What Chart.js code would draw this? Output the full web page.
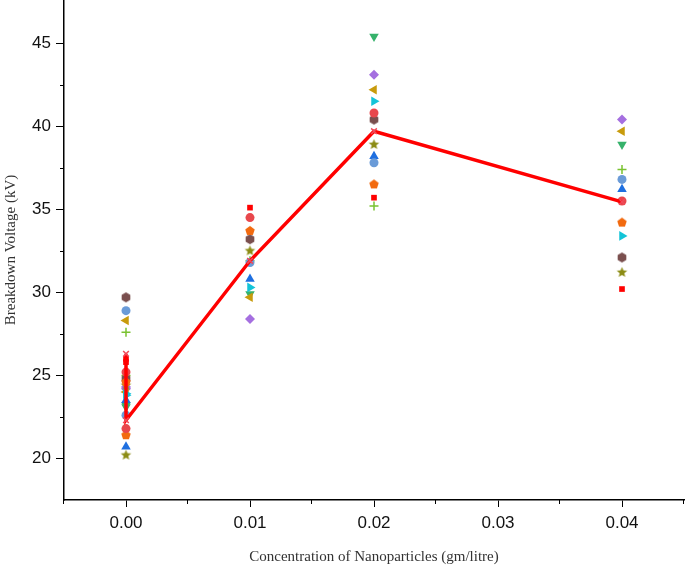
<!DOCTYPE html>
<html>
<head>
<meta charset="utf-8">
<script src="https://cdn.jsdelivr.net/npm/chart.js@4.4.1/dist/chart.umd.min.js"></script>
<style>
    html, body { margin: 0; padding: 0; background: #fff; }
    #wrap { width: 685px; height: 572px; }
</style>
</head>
<body>
<div id="wrap"><canvas id="bdvChart" width="685" height="572"></canvas></div>
<script>
// concentration of each reading (the base oil has two readings per run)
var conc = [0, 0, 0.01, 0.02, 0.04];

// breakdown voltage per run (kV)
var run1 = [25.8, 26.0, 35.1, 35.7, 30.2];
var run2 = [21.8, 25.2, 34.5, 40.8, 35.5];
var run3 = [21.4, 24.6, 33.7, 36.5, 34.2];
var run4 = [29.7, 24.8, 33.2, 40.4, 32.1];
var run5 = [20.2, 24.4, 32.5, 38.9, 31.2];
var run6 = [28.9, 22.6, 31.8, 37.8, 36.8];
var run7 = [20.7, 23.5, 30.8, 38.2, 36.2];
var run8 = [23.8, 23.9, 30.3, 41.5, 33.4];
var run9 = [28.3, 24.0, 29.7, 42.2, 39.7];
var run10 = [24.2, 24.3, 28.4, 43.1, 40.4];
var run11 = [23.2, 23.1, 29.9, 45.4, 38.9];
var run12 = [27.6, 25.0, 31.9, 35.2, 37.4];

// average line
var avgConc = [0, 0, 0.01, 0.02, 0.04];
var avgVolt = [26.3, 22.3, 31.9, 39.7, 35.45];

var xTicks = [0, 0.01, 0.02, 0.03, 0.04];
var yTicks = [20, 25, 30, 35, 40, 45];

function pts(xs, ys) {
    var out = [];
    for (var i = 0; i < xs.length; i++) {
        if (ys[i] !== null) out.push({ x: xs[i], y: ys[i] });
    }
    return out;
}

// small canvas markers for shapes chart.js does not have
function polyMarker(sides, color, r, star) {
    var c = document.createElement('canvas');
    var s = Math.ceil(r * 2 + 2);
    c.width = s; c.height = s;
    var g = c.getContext('2d');
    var n = star ? sides * 2 : sides;
    g.beginPath();
    for (var i = 0; i < n; i++) {
        var a = -Math.PI / 2 + i * 2 * Math.PI / n;
        var rr = (star && i % 2 === 1) ? r * 0.45 : r;
        var px = s / 2 + rr * Math.cos(a), py = s / 2 + rr * Math.sin(a);
        if (i === 0) g.moveTo(px, py); else g.lineTo(px, py);
    }
    g.closePath();
    g.fillStyle = color;
    g.fill();
    return c;
}

function runSet(data, color, style, rot, radius) {
    return {
        type: 'scatter',
        data: pts(conc, data),
        backgroundColor: color,
        borderColor: color,
        borderWidth: style === 'cross' ? 1.5 : 0,
        pointStyle: style,
        rotation: rot || 0,
        pointRadius: radius || 4.5,
        order: 1
    };
}

// no label overflow padding, the axes run to the canvas edges
function noPad(scale) {
    scale.paddingTop = 0;
    scale.paddingBottom = 0;
    scale.paddingLeft = 0;
    scale.paddingRight = 0;
}

var minorTicks = {
    id: 'minorTicks',
    afterDraw: function(chart) {
        var ctx = chart.ctx;
        var xs = chart.scales.x, ys = chart.scales.y;
        ctx.save();
        ctx.strokeStyle = '#000';
        ctx.lineWidth = 1;
        ctx.beginPath();
        [22.5, 27.5, 32.5, 37.5, 42.5].forEach(function(v) {
            var p = Math.round(ys.getPixelForValue(v)) + 0.5;
            ctx.moveTo(xs.left - 4, p);
            ctx.lineTo(xs.left, p);
        });
        [-0.005, 0.005, 0.015, 0.025, 0.035, 0.045].forEach(function(v) {
            var p = Math.round(xs.getPixelForValue(v)) - 0.5;
            ctx.moveTo(p, ys.bottom);
            ctx.lineTo(p, ys.bottom + 4);
        });
        ctx.stroke();
        ctx.restore();
    }
};

var tickFont = { family: "'Liberation Sans', Arial, sans-serif", size: 17 };
var titleFont = { family: "'Liberation Serif', 'Times New Roman', serif", size: 15 };

new Chart(document.getElementById('bdvChart'), {
    type: 'scatter',
    data: {
        datasets: [
            {
                type: 'line',
                data: pts(avgConc, avgVolt),
                borderColor: '#ff0000',
                borderWidth: 3.5,
                backgroundColor: '#f04a5a',
                pointBorderColor: '#f04a5a',
                pointStyle: 'crossRot',
                pointRadius: 4,
                pointBorderWidth: 1.5,
                tension: 0,
                fill: false,
                order: 0
            },
            runSet(run1, '#ff0000', 'rect', 0, 4),
            runSet(run2, '#e8474c', 'circle'),
            runSet(run3, '#f26a0f', polyMarker(5, '#f26a0f', 5)),
            runSet(run4, '#7a4f4e', polyMarker(6, '#7a4f4e', 5)),
            runSet(run5, '#8c8c14', polyMarker(5, '#8c8c14', 5.5, true)),
            runSet(run6, '#6a9bd8', 'circle'),
            runSet(run7, '#1e6fe0', 'triangle', 0, 5.5),
            runSet(run8, '#13c4d8', 'triangle', 90, 5.5),
            runSet(run9, '#c89b0c', 'triangle', -90, 5.5),
            runSet(run10, '#a56fe0', 'rectRot', 0, 5),
            runSet(run11, '#36b26b', 'triangle', 180, 5.5),
            runSet(run12, '#7ac231', 'cross', 0, 4.5)
        ]
    },
    options: {
        responsive: false,
        animation: false,
        layout: { autoPadding: false, padding: { top: 0, right: 1, left: 0, bottom: 0 } },
        plugins: {
            legend: { display: false },
            tooltip: { enabled: false }
        },
        scales: {
            x: {
                type: 'linear',
                min: -0.005,
                max: 0.045,
                afterBuildTicks: function(scale) {
                    scale.ticks = xTicks.map(function(v) { return { value: v }; });
                },
                afterFit: function(scale) { scale.height = 72; noPad(scale); },
                ticks: {
                    color: '#111',
                    font: tickFont,
                    padding: 6,
                    maxRotation: 0,
                    callback: function(v) { return Number(v).toFixed(2); }
                },
                grid: { drawOnChartArea: false, color: '#000', tickLength: 7, tickWidth: 1 },
                border: { color: '#000', width: 1.5 },
                title: {
                    display: true,
                    text: 'Concentration of Nanoparticles (gm/litre)',
                    color: '#333',
                    font: titleFont,
                    padding: { top: 4, bottom: 6 }
                }
            },
            y: {
                min: 17.5,
                max: 47.6,
                afterBuildTicks: function(scale) {
                    scale.ticks = yTicks.map(function(v) { return { value: v }; });
                },
                afterFit: function(scale) { scale.width = 64; noPad(scale); },
                ticks: { color: '#111', font: tickFont, padding: 5 },
                grid: { drawOnChartArea: false, color: '#000', tickLength: 8, tickWidth: 1 },
                border: { color: '#000', width: 1.5 },
                title: {
                    display: true,
                    text: 'Breakdown Voltage (kV)',
                    color: '#333',
                    font: titleFont,
                    padding: { top: 2, bottom: 0 }
                }
            }
        }
    },
    plugins: [minorTicks]
});
</script>
</body>
</html>
